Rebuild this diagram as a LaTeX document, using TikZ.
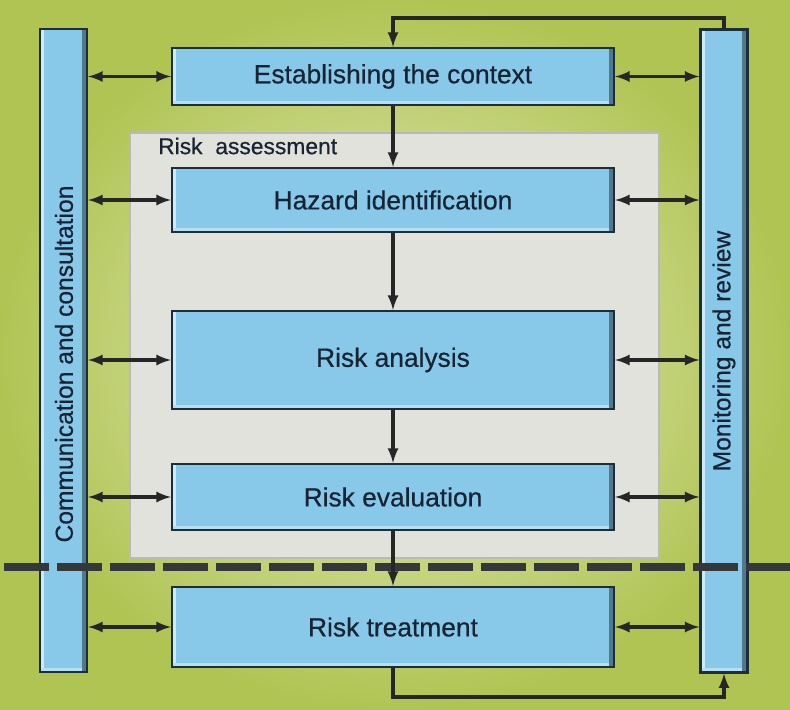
\documentclass[tikz,border=0pt]{standalone}
\usepackage{fontspec}
\setmainfont{Liberation Sans}[FakeBold=0.5]
\usepackage{xcolor}
\usepackage{tikz}
\usetikzlibrary{calc, positioning}

\definecolor{bggreen}{RGB}{176,196,84}
\definecolor{bglight}{RGB}{232,237,196}
\definecolor{boxblue}{RGB}{136,200,232}
\definecolor{boxedge}{RGB}{28,46,58}
\definecolor{textnavy}{RGB}{22,36,52}
\definecolor{assessgray}{RGB}{226,226,221}
\definecolor{dashgray}{RGB}{52,56,58}

\tikzset{
    bevel/.style={
        path picture={
            \fill[boxblue!40!white] (path picture bounding box.south west) rectangle ([xshift=2.5pt]path picture bounding box.north west);
            \fill[boxblue!60!white] (path picture bounding box.south west) rectangle ([yshift=2.5pt]path picture bounding box.south east);
            \fill[boxblue!60!black] ([xshift=-3pt]path picture bounding box.south east) rectangle (path picture bounding box.north east);
        }},
    stepbox/.style={bevel, draw=boxedge, line width=1.3pt, fill=boxblue, text=textnavy,
        minimum width=8.84cm, inner sep=0pt, font=\fontsize{15}{18}\selectfont},
    sidebar/.style={bevel, draw=boxedge, line width=1.3pt, fill=boxblue,
        minimum width=0.94cm, minimum height=12.86cm, inner sep=0pt},
    sidelabel/.style={rotate=90, text=textnavy, font=\fontsize{14}{17}\selectfont},
    link/.style={<->, line width=1.8pt, draw=black!85},
    flow/.style={->, line width=1.8pt, draw=black!85}
}

\begin{document}
\begin{tikzpicture}[>=latex, x=0.02cm, y=-0.02cm]
    \useasboundingbox (0,0) rectangle (790,709);

    % 1. Nền xanh lá, sáng dần vào giữa
    \fill[bggreen] (0,0) rectangle (790,709);
    \shade[inner color=bglight, outer color=bggreen] (0,0) rectangle (790,709);

    % 2. Khung xám "Risk assessment"
    \node[draw=gray!55, line width=1pt, fill=assessgray, minimum width=10.58cm, minimum height=8.5cm,
        inner sep=0pt] (assess) at (394.5,345.5) {};
    \node[anchor=west, text=textnavy, font=\fontsize{13}{16}\selectfont] (assesslbl) at (152,146) {Risk\ \ assessment};

    % 3. Hai thanh dọc hai bên
    \node[sidebar] (comm) at (63.5,350.5) {};
    \node[sidelabel] (commlbl) at (64,364) {Communication and consultation};
    \node[sidebar] (mon) at (724,351) {};
    \node[sidelabel] (monlbl) at (724,351) {Monitoring and review};

    % 4. Các bước của quy trình
    \node[stepbox, minimum height=1.14cm] (ctx) at (393,76.5) {Establishing the context};
    \node[stepbox, minimum height=1.28cm] (hazard) at (393,200) {Hazard identification};
    \node[stepbox, minimum height=1.96cm] (analysis) at (393,360) {Risk analysis};
    \node[stepbox, minimum height=1.32cm] (evaluation) at (393,497) {Risk evaluation};
    \node[stepbox, minimum height=1.6cm] (treatment) at (393,627) {Risk treatment};

    % 5. Đường gạch ngang
    \draw[dashgray, line width=4pt, dash pattern=on 0.9cm off 0.16cm] (4,567) -- (790,567);

    % 6. Mũi tên hai chiều nối với hai thanh dọc
    \foreach \s in {ctx, hazard, analysis, evaluation, treatment} {
        \draw[link] (comm.east |- \s.west) -- (\s.west);
        \draw[link] (\s.east) -- (mon.west |- \s.east);
    }

    % 7. Mũi tên theo trình tự
    \draw[flow] (ctx) -- (hazard);
    \draw[flow] (hazard) -- (analysis);
    \draw[flow] (analysis) -- (evaluation);
    \draw[flow] (evaluation) -- (treatment);

    % 8. Vòng phản hồi trên và dưới
    \coordinate (topright) at (724,18);
    \coordinate (botleft) at (393,697);
    \draw[flow] (mon.north) -- (topright) -| (ctx.north);
    \draw[flow] (treatment.south) -- (botleft) -| (mon.south);
\end{tikzpicture}
\end{document}
